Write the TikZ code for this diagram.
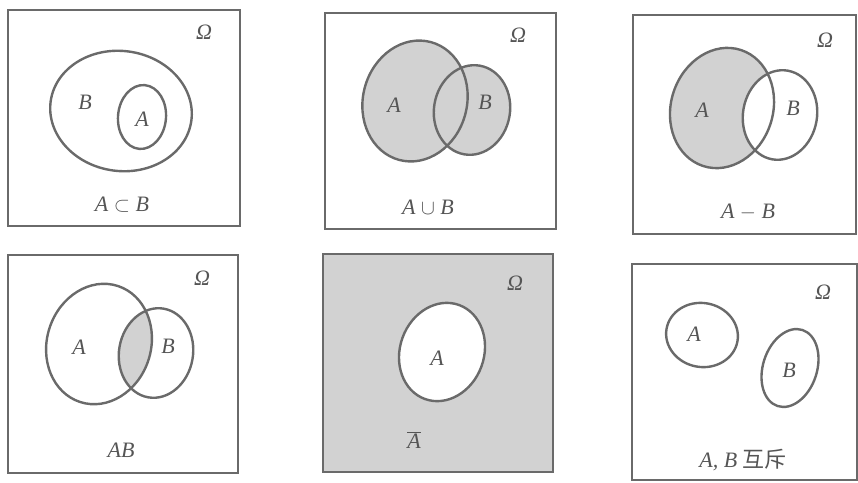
\documentclass[tikz,border=0pt]{standalone}
\usepackage{fontspec}
\setmainfont{Liberation Serif}
\newfontfamily\cjk{Noto Sans CJK SC}
\definecolor{linegray}{HTML}{6A6A6A}
\definecolor{txtgray}{HTML}{555555}
\definecolor{shadegray}{HTML}{D2D2D2}
\begin{document}
\begin{tikzpicture}[x=1pt,y=-1pt,
 frame/.style={draw=linegray,line width=1.8pt},
 setline/.style={draw=linegray,line width=2.4pt},
 shadefill/.style={fill=shadegray},
 lbl/.style={text=txtgray,font=\fontsize{22}{22}\selectfont\itshape,inner sep=0pt}]
\useasboundingbox (0,0) rectangle (858,482);
% Panel 1: A subset B
\draw[frame] (8,10) rectangle (240,226);
\draw[setline, rotate around={-8:(121,111)}] (121,111) ellipse [x radius=71pt, y radius=60pt];
\draw[setline, rotate around={-5:(142,117)}] (142,117) ellipse [x radius=24pt, y radius=32pt];
\node[lbl] (o1) at (204,32) {Ω};
\node[lbl] (b1) at (85,102) {B};
\node[lbl] (a1) at (142,119) {A};
\node[lbl] (c1) at (122,205) {A $\subset$ B};
% Panel 2: union
\draw[frame] (325,13) rectangle (556,229);
\fill[shadefill, rotate around={-15:(415,101)}] (415,101) ellipse [x radius=52pt, y radius=61pt];
\fill[shadefill, rotate around={-10:(472,110)}] (472,110) ellipse [x radius=38pt, y radius=45pt];
\draw[setline, rotate around={-15:(415,101)}] (415,101) ellipse [x radius=52pt, y radius=61pt];
\draw[setline, rotate around={-10:(472,110)}] (472,110) ellipse [x radius=38pt, y radius=45pt];
\node[lbl] (o2) at (518,35) {Ω};
\node[lbl] (a2) at (394,105) {A};
\node[lbl] (b2) at (485,102) {B};
\node[lbl] (c2) at (428,207) {A $\cup$ B};
% Panel 3: difference
\draw[frame] (633,15) rectangle (856,234);
\fill[shadefill, rotate around={-18:(722,108)}] (722,108) ellipse [x radius=51pt, y radius=61pt];
\fill[white, rotate around={-10:(780,115)}] (780,115) ellipse [x radius=37pt, y radius=45pt];
\draw[setline, rotate around={-18:(722,108)}] (722,108) ellipse [x radius=51pt, y radius=61pt];
\draw[setline, rotate around={-10:(780,115)}] (780,115) ellipse [x radius=37pt, y radius=45pt];
\node[lbl] (o3) at (825,40) {Ω};
\node[lbl] (a3) at (702,110) {A};
\node[lbl] (b3) at (793,108) {B};
\node[lbl] (c3) at (748,212) {A $-$ B};
% Panel 4: intersection
\draw[frame] (8,255) rectangle (238,473);
\begin{scope}
\clip[rotate around={-18:(99,344)}] (99,344) ellipse [x radius=52pt, y radius=61pt];
\fill[shadefill, rotate around={-10:(156,353)}] (156,353) ellipse [x radius=37pt, y radius=45pt];
\end{scope}
\draw[setline, rotate around={-18:(99,344)}] (99,344) ellipse [x radius=52pt, y radius=61pt];
\draw[setline, rotate around={-10:(156,353)}] (156,353) ellipse [x radius=37pt, y radius=45pt];
\node[lbl] (o4) at (202,278) {Ω};
\node[lbl] (a4) at (79,347) {A};
\node[lbl] (b4) at (168,346) {B};
\node[lbl] (c4) at (121,450) {AB};
% Panel 5: complement
\fill[shadefill] (323,254) rectangle (553,472);
\draw[frame] (323,254) rectangle (553,472);
\fill[white, rotate around={-20:(442,352)}] (442,352) ellipse [x radius=42pt, y radius=50pt];
\draw[setline, rotate around={-20:(442,352)}] (442,352) ellipse [x radius=42pt, y radius=50pt];
\node[lbl] (o5) at (515,283) {Ω};
\node[lbl] (a5) at (437,358) {A};
\node[lbl] (c5) at (414,440) {$\overline{\mbox{\itshape A}}$};
% Panel 6: mutually exclusive
\draw[frame] (632,264) rectangle (857,480);
\draw[setline, rotate around={-10:(702,335)}] (702,335) ellipse [x radius=36pt, y radius=32pt];
\draw[setline, rotate around={-18:(790,368)}] (790,368) ellipse [x radius=27pt, y radius=40pt];
\node[lbl] (o6) at (823,292) {Ω};
\node[lbl] (a6) at (694,334) {A};
\node[lbl] (b6) at (789,370) {B};
\node[lbl] (c6) at (743,460) {A, B {\cjk\upshape 互斥}};
\end{tikzpicture}
\end{document}
